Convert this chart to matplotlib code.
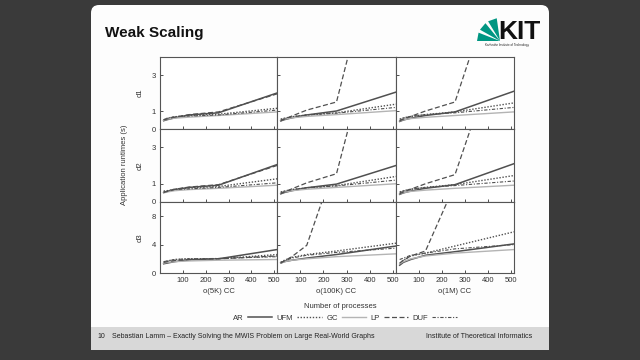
import matplotlib
import matplotlib.pyplot as plt
from matplotlib.patches import FancyBboxPatch, Rectangle, Polygon

matplotlib.use('Agg')
plt.rcParams['font.family'] = ['Liberation Sans', 'DejaVu Sans']

procs = [16, 32, 64, 128, 256, 512]
columns = ["o(5K) CC", "o(100K) CC", "o(1M) CC"]
rows = ["d1", "d2", "d3"]
yticks_rows = [[0, 1, 3], [0, 1, 3], [0, 4, 8]]
ylim_rows = [4, 4, 10]
xticks = [100, 200, 300, 400, 500]

# runtimes per row (d1, d2, d3) and column (5K, 100K, 1M)
ar = [
    [[0.46, 0.52, 0.62, 0.78, 0.90, 2.0], [0.45, 0.52, 0.62, 0.78, 1.0, 2.05], [0.42, 0.50, 0.60, 0.75, 0.95, 2.1]],
    [[0.52, 0.58, 0.68, 0.80, 0.92, 2.05], [0.45, 0.52, 0.62, 0.78, 0.98, 2.0], [0.42, 0.50, 0.60, 0.75, 0.95, 2.1]],
    [[1.3, 1.4, 1.6, 1.85, 2.0, 3.3], [1.4, 1.6, 1.8, 2.1, 2.6, 3.8], [1.1, 1.5, 1.9, 2.5, 3.0, 4.1]],
]
ufm = [
    [[0.50, 0.60, 0.68, 0.75, 0.82, 1.15], [0.55, 0.60, 0.68, 0.78, 0.90, 1.38], [0.55, 0.62, 0.70, 0.80, 0.95, 1.45]],
    [[0.60, 0.62, 0.70, 0.78, 0.85, 1.27], [0.55, 0.60, 0.68, 0.78, 0.90, 1.40], [0.55, 0.62, 0.70, 0.80, 0.95, 1.45]],
    [[1.5, 1.7, 1.9, 2.0, 2.0, 2.6], [1.5, 1.8, 2.2, 2.6, 3.1, 4.2], [1.3, 1.8, 2.4, 2.8, 3.8, 5.8]],
]
gc = [
    [[0.48, 0.55, 0.60, 0.66, 0.75, 0.95], [0.48, 0.55, 0.62, 0.70, 0.80, 1.02], [0.45, 0.52, 0.58, 0.65, 0.75, 0.95]],
    [[0.50, 0.55, 0.62, 0.68, 0.75, 0.92], [0.48, 0.55, 0.62, 0.70, 0.80, 1.0], [0.45, 0.52, 0.58, 0.65, 0.75, 0.92]],
    [[1.4, 1.5, 1.6, 1.7, 1.8, 1.9], [1.4, 1.6, 1.8, 2.0, 2.3, 2.7], [1.3, 1.6, 2.0, 2.4, 2.8, 3.3]],
]
lp = [
    [[0.50, 0.56, 0.66, 0.80, 0.95, 1.95], [0.45, 0.55, 0.72, 1.05, 1.5, 14.5], [0.45, 0.55, 0.70, 1.0, 1.5, 11.4]],
    [[0.52, 0.58, 0.70, 0.82, 0.95, 2.0], [0.45, 0.55, 0.72, 1.05, 1.55, 14.0], [0.45, 0.55, 0.70, 1.0, 1.5, 11.0]],
    [[1.5, 1.6, 1.75, 1.9, 2.0, 2.4], [1.4, 1.7, 2.3, 3.9, 16.0, 40.0], [1.4, 1.8, 2.4, 3.1, 12.5, 40.0]],
]
duf = [
    [[0.52, 0.60, 0.68, 0.72, 0.78, 1.05], [0.50, 0.58, 0.68, 0.78, 0.88, 1.2], [0.48, 0.60, 0.70, 0.80, 0.90, 1.2]],
    [[0.55, 0.60, 0.68, 0.72, 0.80, 1.05], [0.50, 0.58, 0.68, 0.78, 0.88, 1.2], [0.50, 0.60, 0.70, 0.80, 0.90, 1.15]],
    [[1.6, 1.7, 1.9, 2.0, 2.05, 2.3], [1.5, 1.7, 2.1, 2.5, 2.9, 3.5], [1.9, 2.1, 2.5, 2.8, 3.4, 4.0]],
]

series = [
    ("AR", ar, dict(color='#505050', linestyle='-', linewidth=1.1)),
    ("UFM", ufm, dict(color='#505050', linestyle=(0, (1, 1.2)), linewidth=1.0)),
    ("GC", gc, dict(color='#b4b4b4', linestyle='-', linewidth=1.0)),
    ("LP", lp, dict(color='#505050', linestyle=(0, (4, 2)), linewidth=0.9)),
    ("DUF", duf, dict(color='#505050', linestyle=(0, (3, 1.5, 1, 1.5)), linewidth=0.8)),
]

W, H = 640, 360
fig = plt.figure(figsize=(6.4, 3.6), dpi=100)
fig.patch.set_facecolor('#3a3a3a')


def fx(px):
    return px / W


def fy(py):
    return 1 - py / H


# slide background
bg = fig.add_axes([0, 0, 1, 1], zorder=-10)
bg.set_xlim(0, W)
bg.set_ylim(H, 0)
bg.axis('off')
bg.add_patch(FancyBboxPatch((91, 5), 458, 345, boxstyle="round,pad=0,rounding_size=8",
                            facecolor='#fdfdfd', edgecolor='none'))
bg.add_patch(Rectangle((91, 327), 458, 23, facecolor='#d8d8d8', edgecolor='none'))
bg.text(105, 33, "Weak Scaling", fontsize=11, fontweight='bold', va='center', ha='left', color='#111111')
bg.text(97, 336, "10", fontsize=5, va='center', ha='left', color='#222222')
bg.text(112, 336, "Sebastian Lamm – Exactly Solving the MWIS Problem on Large Real-World Graphs",
        fontsize=5, va='center', ha='left', color='#222222')
bg.text(532, 336, "Institute of Theoretical Informatics", fontsize=5, va='center', ha='right', color='#222222')

# KIT logo
green = '#009682'
cx, cy = 500, 41
for a0, a1 in [(0.0, 0.26), (0.36, 0.62), (0.72, 1.0)]:
    import math
    r = 23
    pts = [(cx, cy)]
    for t in (a0, a1):
        ang = math.pi - t * math.pi / 2.2
        pts.append((cx + r * math.cos(ang), cy - r * math.sin(ang)))
    bg.add_patch(Polygon(pts, closed=True, facecolor=green, edgecolor='none'))
bg.text(519, 32, "KIT", fontsize=19, fontweight='bold', ha='center', va='center', color='#111111')
bg.text(507, 45, "Karlsruhe Institute of Technology", fontsize=2.2, ha='center', va='center', color='#222222')

col_left = [160, 277, 396]
col_w = [117, 119, 118]
row_top = [57, 129, 202]
row_h = [72, 73, 71]

handles = []
for r in range(3):
    for c in range(3):
        ax = fig.add_axes([fx(col_left[c]), fy(row_top[r] + row_h[r]), fx(col_w[c]), row_h[r] / H])
        for name, data, style in series:
            line, = ax.plot(procs, data[r][c], label=name, **style)
            if r == 0 and c == 0:
                handles.append(line)
        ax.set_xlim(0, 512)
        ax.set_ylim(0, ylim_rows[r])
        ax.set_xticks(xticks)
        ax.set_yticks(yticks_rows[r])
        ax.tick_params(direction='in', length=2, width=0.6, labelsize=5.5, colors='#333333', pad=3)
        for s in ax.spines.values():
            s.set_color('#555555')
            s.set_linewidth(0.8)
        if c != 0:
            ax.set_yticklabels([])
        else:
            ax.set_ylabel(rows[r], fontsize=5.5, color='#333333', labelpad=6)
        if r != 2:
            ax.set_xticklabels([])
        else:
            ax.set_xlabel(columns[c], fontsize=5.5, color='#333333', labelpad=3)

fig.text(fx(124), fy(165), "Application runtimes (s)", rotation=90, fontsize=5.5,
         ha='center', va='center', color='#333333')
fig.text(fx(340), fy(306), "Number of processes", fontsize=5.5, ha='center', va='center', color='#333333')
fig.legend(handles=handles, loc='center', bbox_to_anchor=(fx(345), fy(318)), ncol=5, frameon=False,
           markerfirst=False, fontsize=5.5, handlelength=3.2, handletextpad=0.5, columnspacing=0.6,
           labelcolor='#333333')

fig.savefig("out.png", dpi=100, facecolor=fig.get_facecolor())
